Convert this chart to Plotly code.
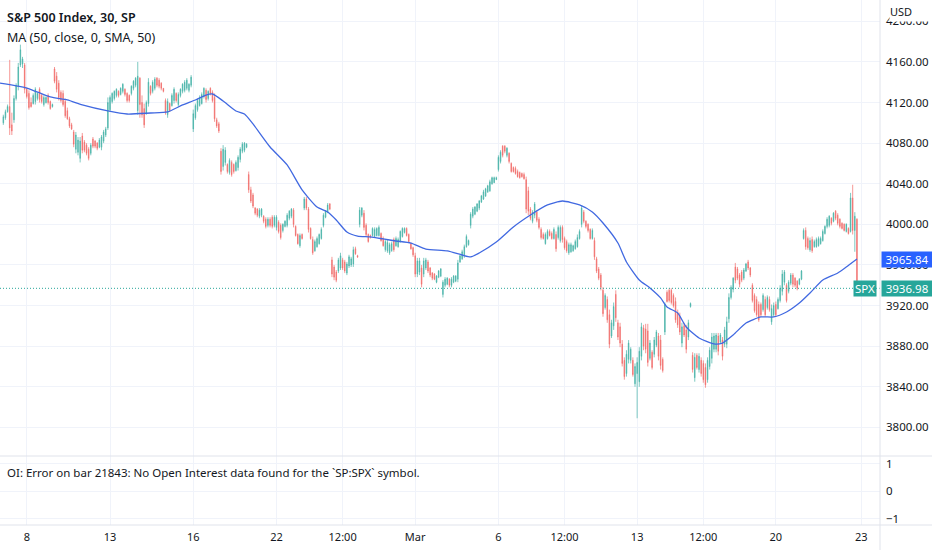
import plotly.graph_objects as go

# S&P 500, 30 min bars, Feb 7 (last 11 bars) .. Mar 22 2023, one line per session
opens = [
    4100, 4105, 4111, 4116, 4098, 4103, 4124, 4136, 4157, 4158, 4157,
    4133, 4129, 4120, 4119, 4121, 4124, 4133, 4127, 4118, 4120, 4127, 4121, 4116,
    4153, 4146, 4139, 4130, 4129, 4121, 4112, 4104, 4098, 4091, 4074, 4071, 4065,
    4087, 4081, 4078, 4074, 4070, 4084, 4082, 4080, 4076, 4076, 4082, 4088, 4095,
    4113, 4121, 4124, 4127, 4131, 4128, 4131, 4133, 4129, 4127, 4129, 4134, 4137,
    4112, 4144, 4120, 4114, 4109, 4119, 4136, 4131, 4134, 4144, 4142, 4139, 4134,
    4122, 4108, 4119, 4117, 4122, 4129, 4118, 4127, 4131, 4132, 4134, 4132, 4137,
    4094, 4105, 4113, 4117, 4119, 4126, 4132, 4124, 4134, 4130, 4125, 4103, 4099,
    4072, 4057, 4061, 4059, 4051, 4061, 4059, 4053, 4056, 4064, 4072, 4073, 4076,
    4049, 4034, 4029, 4016, 4015, 4008, 4009, 4008, 4005, 3999, 4005, 4007, 3999,
    3997, 4002, 3999, 3994, 3998, 3999, 4006, 4008, 4014, 3998, 3990, 3979, 3990,
    4016, 4025, 4015, 3996, 3985, 3974, 3978, 3981, 3986, 3999, 4007, 4012, 4020,
    3965, 3958, 3953, 3954, 3957, 3965, 3963, 3952, 3959, 3960, 3961, 3976, 3969,
    4000, 4009, 4011, 3999, 3990, 3989, 3989, 3988, 3989, 3989, 3991, 3986, 3975,
    3974, 3972, 3974, 3985, 3979, 3978, 3983, 3988, 3992, 3996, 3990, 3981, 3977,
    3969, 3951, 3953, 3957, 3951, 3957, 3963, 3957, 3952, 3951, 3943, 3948, 3949,
    3931, 3940, 3941, 3946, 3940, 3943, 3944, 3946, 3963, 3966, 3969, 3978, 3980,
    3999, 4008, 4010, 4013, 4016, 4022, 4025, 4028, 4032, 4033, 4040, 4041, 4044,
    4054, 4062, 4077, 4077, 4068, 4070, 4060, 4056, 4055, 4052, 4051, 4050, 4049,
    4044, 4033, 4015, 4003, 4009, 4012, 4005, 3995, 3990, 3981, 3986, 3993, 3991,
    3986, 3990, 3987, 3984, 3997, 3986, 3983, 3972, 3973, 3974, 3976, 3978, 3986,
    4000, 4012, 4003, 4000, 3995, 3986, 3984, 3966, 3956, 3950, 3935, 3918, 3926,
    3911, 3890, 3900, 3931, 3903, 3899, 3882, 3866, 3853, 3867, 3866, 3866, 3843,
    3853, 3845, 3870, 3898, 3897, 3895, 3868, 3874, 3872, 3881, 3890, 3886, 3867,
    3894, 3933, 3935, 3935, 3930, 3924, 3913, 3909, 3883, 3900, 3896, 3889, 3919,
    3871, 3849, 3871, 3857, 3866, 3863, 3859, 3847, 3860, 3868, 3877, 3877, 3890,
    3884, 3886, 3882, 3882, 3907, 3928, 3936, 3958, 3956, 3950, 3953, 3947, 3954,
    3963, 3957, 3940, 3930, 3926, 3921, 3921, 3916, 3926, 3918, 3926, 3904, 3911,
    3921, 3917, 3925, 3934, 3943, 3940, 3934, 3942, 3950, 3947, 3944, 3941, 3946,
    3986, 3994, 3986, 3975, 3985, 3978, 3978, 3979, 3981, 3984, 3991, 3998, 3999,
    4006, 4003, 4013, 4009, 4005, 4001, 4000, 3993, 3996, 3993, 4026, 3994, 4005,
]
highs = [
    4108, 4113, 4118, 4162, 4110, 4127, 4139, 4159, 4177, 4165, 4159,
    4135, 4132, 4125, 4129, 4135, 4130, 4135, 4129, 4127, 4126, 4129, 4122, 4119,
    4155, 4150, 4142, 4132, 4132, 4124, 4115, 4106, 4100, 4093, 4091, 4086, 4086,
    4090, 4083, 4080, 4076, 4080, 4086, 4083, 4081, 4085, 4088, 4093, 4096, 4125,
    4127, 4130, 4132, 4134, 4132, 4135, 4139, 4134, 4130, 4128, 4137, 4142, 4145,
    4160, 4145, 4127, 4119, 4122, 4144, 4137, 4142, 4145, 4145, 4144, 4140, 4134,
    4124, 4124, 4120, 4129, 4135, 4130, 4130, 4134, 4139, 4142, 4144, 4139, 4147,
    4113, 4119, 4124, 4127, 4130, 4135, 4134, 4132, 4135, 4132, 4129, 4105, 4101,
    4075, 4078, 4076, 4060, 4065, 4063, 4060, 4063, 4068, 4076, 4081, 4081, 4080,
    4052, 4037, 4031, 4017, 4016, 4016, 4016, 4009, 4007, 4007, 4007, 4009, 4009,
    4009, 4004, 4001, 4001, 4004, 4011, 4014, 4016, 4016, 3999, 3991, 3991, 3991,
    4027, 4027, 4017, 3997, 3988, 3985, 3988, 3991, 3997, 4011, 4014, 4021, 4021,
    3968, 3960, 3955, 3967, 3972, 3967, 3965, 3963, 3970, 3968, 3978, 3978, 3970,
    4017, 4017, 4014, 4001, 3991, 3990, 3997, 3997, 3997, 3999, 3992, 3988, 3985,
    3985, 3982, 3983, 3987, 3988, 3987, 3994, 3997, 3997, 3997, 3991, 3982, 3978,
    3972, 3967, 3967, 3960, 3967, 3967, 3965, 3958, 3953, 3952, 3950, 3955, 3957,
    3945, 3948, 3948, 3947, 3948, 3950, 3950, 3965, 3970, 3975, 3980, 3990, 3985,
    4012, 4017, 4018, 4021, 4024, 4029, 4034, 4036, 4039, 4044, 4047, 4047, 4047,
    4068, 4073, 4078, 4078, 4076, 4071, 4061, 4057, 4057, 4054, 4052, 4051, 4051,
    4047, 4037, 4017, 4014, 4022, 4014, 4007, 3997, 3992, 3992, 3995, 3995, 3993,
    3997, 3993, 3999, 3999, 3999, 3988, 3985, 3982, 3982, 3980, 3985, 3990, 3995,
    4019, 4014, 4004, 4001, 3996, 3996, 3987, 3968, 3958, 3952, 3938, 3932, 3929,
    3916, 3906, 3923, 3935, 3906, 3903, 3886, 3869, 3876, 3886, 3879, 3869, 3863,
    3869, 3879, 3903, 3901, 3902, 3902, 3886, 3876, 3889, 3896, 3893, 3891, 3869,
    3923, 3935, 3937, 3937, 3932, 3928, 3916, 3913, 3903, 3903, 3901, 3906, 3923,
    3874, 3873, 3873, 3873, 3869, 3866, 3863, 3869, 3879, 3893, 3893, 3893, 3893,
    3893, 3889, 3899, 3909, 3932, 3940, 3948, 3962, 3958, 3952, 3955, 3957, 3962,
    3965, 3958, 3942, 3932, 3929, 3924, 3923, 3932, 3929, 3930, 3929, 3921, 3923,
    3924, 3928, 3940, 3955, 3955, 3942, 3945, 3952, 3952, 3948, 3945, 3947, 3955,
    3996, 3997, 3988, 3987, 3988, 3985, 3987, 3988, 3988, 3995, 3999, 4007, 4009,
    4007, 4012, 4014, 4011, 4006, 4002, 4001, 4001, 3997, 4031, 4039, 4012, 4006,
]
lows = [
    4098, 4103, 4110, 4088, 4088, 4100, 4122, 4132, 4155, 4154, 4129,
    4124, 4113, 4115, 4118, 4118, 4122, 4120, 4119, 4116, 4119, 4118, 4113, 4115,
    4139, 4130, 4122, 4120, 4116, 4105, 4103, 4095, 4093, 4076, 4070, 4068, 4061,
    4070, 4071, 4068, 4063, 4068, 4075, 4075, 4073, 4075, 4073, 4080, 4086, 4093,
    4111, 4119, 4122, 4125, 4125, 4127, 4129, 4126, 4120, 4120, 4127, 4132, 4135,
    4108, 4105, 4105, 4095, 4108, 4116, 4127, 4129, 4132, 4135, 4134, 4132, 4130,
    4108, 4105, 4111, 4116, 4119, 4120, 4116, 4125, 4129, 4130, 4132, 4130, 4135,
    4091, 4103, 4111, 4116, 4118, 4124, 4120, 4122, 4127, 4120, 4101, 4095, 4090,
    4049, 4053, 4058, 4050, 4049, 4047, 4050, 4052, 4053, 4061, 4070, 4071, 4075,
    4031, 4021, 4016, 4009, 4007, 4006, 4007, 4001, 3996, 3997, 3997, 3996, 3997,
    3994, 3991, 3985, 3992, 3997, 3997, 4004, 4006, 3997, 3988, 3980, 3977, 3985,
    4014, 4014, 3992, 3985, 3970, 3973, 3977, 3980, 3985, 3997, 4006, 4011, 4014,
    3948, 3945, 3943, 3952, 3955, 3955, 3952, 3950, 3957, 3958, 3958, 3970, 3967,
    3997, 4007, 3994, 3988, 3982, 3986, 3988, 3987, 3988, 3988, 3983, 3978, 3973,
    3972, 3970, 3973, 3973, 3978, 3977, 3982, 3987, 3991, 3988, 3982, 3975, 3968,
    3948, 3948, 3950, 3938, 3948, 3955, 3952, 3948, 3945, 3945, 3942, 3947, 3948,
    3928, 3938, 3940, 3938, 3938, 3942, 3943, 3943, 3962, 3965, 3967, 3977, 3979,
    3996, 4006, 4009, 4012, 4014, 4021, 4024, 4027, 4031, 4032, 4039, 4041, 4044,
    4052, 4060, 4066, 4070, 4066, 4060, 4051, 4051, 4049, 4046, 4045, 4046, 4044,
    4011, 4009, 4004, 4001, 4006, 4002, 3995, 3985, 3985, 3980, 3985, 3988, 3985,
    3985, 3973, 3985, 3982, 3982, 3975, 3972, 3970, 3972, 3973, 3975, 3977, 3985,
    3997, 4001, 3996, 3992, 3985, 3985, 3965, 3952, 3945, 3935, 3909, 3916, 3903,
    3878, 3888, 3896, 3904, 3886, 3879, 3860, 3847, 3850, 3863, 3863, 3850, 3840,
    3809, 3840, 3866, 3876, 3873, 3860, 3866, 3857, 3869, 3879, 3866, 3857, 3854,
    3891, 3923, 3923, 3921, 3918, 3903, 3898, 3891, 3879, 3889, 3873, 3886, 3918,
    3854, 3845, 3857, 3854, 3850, 3844, 3839, 3844, 3857, 3863, 3874, 3874, 3871,
    3883, 3866, 3879, 3878, 3903, 3926, 3933, 3942, 3945, 3938, 3943, 3945, 3953,
    3955, 3948, 3923, 3913, 3909, 3904, 3909, 3914, 3909, 3916, 3914, 3901, 3909,
    3909, 3916, 3923, 3930, 3940, 3923, 3932, 3940, 3938, 3938, 3935, 3940, 3945,
    3985, 3975, 3975, 3973, 3972, 3977, 3977, 3978, 3980, 3983, 3990, 3996, 3997,
    3999, 4002, 4004, 3999, 3996, 3995, 3993, 3992, 3990, 3992, 3990, 3973, 3936,
]
closes = [
    4106, 4111, 4116, 4095, 4092, 4124, 4137, 4155, 4172, 4163, 4133,
    4126, 4115, 4116, 4127, 4133, 4129, 4123, 4121, 4125, 4125, 4120, 4114, 4118,
    4141, 4133, 4125, 4122, 4118, 4107, 4104, 4097, 4094, 4079, 4088, 4083, 4082,
    4073, 4073, 4070, 4065, 4078, 4077, 4077, 4075, 4083, 4086, 4091, 4094, 4120,
    4125, 4129, 4131, 4133, 4127, 4134, 4138, 4128, 4122, 4122, 4136, 4141, 4144,
    4146, 4118, 4108, 4098, 4120, 4140, 4129, 4140, 4143, 4137, 4136, 4134, 4131,
    4110, 4121, 4112, 4127, 4133, 4122, 4128, 4133, 4138, 4140, 4142, 4138, 4145,
    4109, 4117, 4122, 4125, 4128, 4134, 4123, 4131, 4129, 4122, 4104, 4097, 4092,
    4052, 4074, 4073, 4052, 4063, 4049, 4052, 4061, 4066, 4074, 4079, 4080, 4079,
    4034, 4023, 4018, 4011, 4009, 4014, 4015, 4003, 3998, 4005, 3999, 3998, 4007,
    4007, 3993, 3987, 4000, 4003, 4009, 4013, 4015, 4000, 3989, 3981, 3989, 3986,
    4025, 4016, 3995, 3986, 3972, 3983, 3986, 3990, 3995, 4009, 4013, 4019, 4015,
    3951, 3948, 3945, 3965, 3969, 3957, 3954, 3961, 3968, 3966, 3975, 3971, 3968,
    4014, 4016, 3997, 3990, 3983, 3987, 3996, 3995, 3996, 3997, 3984, 3979, 3983,
    3982, 3980, 3981, 3975, 3986, 3985, 3993, 3996, 3996, 3989, 3983, 3976, 3970,
    3951, 3964, 3964, 3941, 3964, 3965, 3954, 3950, 3947, 3946, 3949, 3954, 3956,
    3943, 3946, 3947, 3940, 3946, 3949, 3949, 3962, 3969, 3973, 3978, 3988, 3984,
    4010, 4015, 4017, 4020, 4023, 4028, 4032, 4035, 4038, 4042, 4046, 4046, 4046,
    4066, 4071, 4068, 4072, 4075, 4062, 4052, 4052, 4050, 4047, 4046, 4047, 4045,
    4015, 4013, 4006, 4012, 4020, 4004, 3997, 3987, 3986, 3990, 3993, 3989, 3986,
    3995, 3976, 3997, 3997, 3985, 3977, 3974, 3980, 3980, 3979, 3983, 3987, 3993,
    4016, 4003, 3998, 3994, 3986, 3994, 3968, 3954, 3947, 3938, 3912, 3930, 3906,
    3882, 3903, 3919, 3908, 3889, 3883, 3863, 3850, 3872, 3883, 3877, 3852, 3860,
    3864, 3875, 3899, 3880, 3877, 3864, 3883, 3859, 3886, 3894, 3870, 3861, 3856,
    3921, 3924, 3925, 3923, 3920, 3906, 3901, 3894, 3899, 3891, 3877, 3903, 3922,
    3857, 3869, 3859, 3870, 3853, 3847, 3842, 3866, 3876, 3889, 3890, 3891, 3875,
    3891, 3870, 3896, 3904, 3928, 3938, 3947, 3945, 3947, 3941, 3945, 3955, 3961,
    3957, 3950, 3925, 3915, 3911, 3906, 3911, 3930, 3911, 3928, 3916, 3917, 3920,
    3911, 3926, 3937, 3951, 3953, 3925, 3943, 3950, 3941, 3940, 3937, 3946, 3954,
    3994, 3978, 3977, 3984, 3974, 3983, 3985, 3986, 3986, 3993, 3998, 4005, 4008,
    4001, 4011, 4006, 4001, 3998, 3996, 3994, 4000, 3991, 4026, 3994, 4008, 3936.98,
]

# MA(50), at bar numbers
ma_bar = [-2, 11, 22, 30, 37, 49, 58, 69, 77, 84, 90, 95, 98, 103, 109, 113, 117, 125,
          133, 140, 147, 152, 156, 161, 166, 172, 178, 184, 191, 198, 208, 215, 219,
          223, 231, 239, 247, 255, 262, 270, 276, 281, 288, 292, 298, 303, 308, 311,
          316, 320, 326, 333, 337, 342, 348, 355, 361, 367, 373, 378, 384, 391, 395, 400]
ma_vals = [4139.2, 4134.3, 4125.5, 4122.5, 4117.6, 4111.7, 4108.7, 4109.7, 4110.7, 4117.6,
           4122.5, 4127.4, 4128.4, 4121.5, 4111.7, 4108.7, 4098.9, 4076.2, 4058.5, 4033.9,
           4017.1, 4012.2, 4004.3, 3992.5, 3988.5, 3987.6, 3985.6, 3983.6, 3981.6, 3975.7,
           3973.8, 3969.8, 3967.9, 3971.8, 3982.6, 3997.4, 4009.2, 4019.1, 4023.0, 4019.1,
           4012.2, 4001.3, 3981.6, 3962.9, 3945.2, 3937.3, 3927.5, 3918.6, 3912.7, 3898.9,
           3888.0, 3882.2, 3883.1, 3891.0, 3902.8, 3908.8, 3908.8, 3913.7, 3922.5, 3932.4,
           3945.2, 3952.1, 3958.0, 3965.84]

# time axis: bar number of each label
tick_bar = [11, 50, 89, 128, 159, 193, 232, 263, 297, 328, 362, 402]
tick_text = ["8", "13", "16", "22", "12:00", "Mar", "6", "12:00", "13", "12:00", "20", "23"]
price_ticks = [3800, 3840, 3880, 3920, 3960, 4000, 4040, 4080, 4120, 4160, 4200]

last_close = closes[-1]
last_ma = ma_vals[-1]

UP = "#26a69a"
DOWN = "#ef5350"
GRID = "#f0f3fa"
BORDER = "#e0e3eb"
TXT = "#131722"
FONT = "Noto Sans"

W, H = 932, 550
PLOT_W, PLOT_H = 880, 525
SPLIT = 456  # pixel row of the pane separator


def px(x):
    return x / PLOT_W


def py(y):
    return (PLOT_H - y) / PLOT_H


bars = list(range(len(closes)))

fig = go.Figure()
fig.add_trace(go.Candlestick(
    x=bars, open=opens, high=highs, low=lows, close=closes,
    increasing=dict(line=dict(color=UP, width=0.7), fillcolor=UP),
    decreasing=dict(line=dict(color=DOWN, width=0.7), fillcolor=DOWN),
    whiskerwidth=0, opacity=0.85, hoverinfo="skip", xaxis="x", yaxis="y",
))
fig.add_trace(go.Scatter(
    x=ma_bar, y=ma_vals, mode="lines",
    line=dict(color="#4169e1", width=1.3, shape="spline", smoothing=0.6),
    hoverinfo="skip", xaxis="x", yaxis="y",
))
# empty indicator pane
fig.add_trace(go.Scatter(x=[0], y=[0], mode="markers", marker=dict(opacity=0),
                         hoverinfo="skip", xaxis="x", yaxis="y2"))

split_dom = (PLOT_H - SPLIT) / PLOT_H

fig.update_layout(
    width=W, height=H,
    margin=dict(l=0, r=W - PLOT_W, t=0, b=H - PLOT_H),
    paper_bgcolor="white", plot_bgcolor="white",
    showlegend=False, hovermode=False, boxgap=0.6,
    font=dict(family=FONT, color=TXT, size=11),
    xaxis=dict(
        anchor="y2", range=[-1.55, 410.8], tickvals=tick_bar, ticktext=tick_text,
        showgrid=True, gridcolor=GRID, gridwidth=1, zeroline=False, showline=False,
        ticks="", ticklabelstandoff=4, tickfont=dict(size=11, color=TXT),
        rangeslider=dict(visible=False), fixedrange=True,
    ),
    yaxis=dict(
        domain=[split_dom, 1], side="right", range=[3771.8, 4221],
        tickvals=price_ticks, tickformat=".2f", showgrid=True, gridcolor=GRID,
        zeroline=False, showline=False, ticks="", ticklabelstandoff=5,
        tickfont=dict(size=11.5, color=TXT), fixedrange=True,
    ),
    yaxis2=dict(
        domain=[0, split_dom], side="right", range=[-1.22, 1.29],
        tickvals=[-1, 0, 1], showgrid=True, gridcolor=GRID, zeroline=False,
        showline=False, ticks="", ticklabelstandoff=5,
        tickfont=dict(size=11.5, color=TXT), fixedrange=True,
    ),
)

shapes = [
    # last price dotted line
    dict(type="line", xref="paper", yref="y", x0=0, x1=1, y0=last_close, y1=last_close,
         line=dict(color=UP, width=1, dash="1px,2px")),
    # pane separator, time axis border, price axis border
    dict(type="line", xref="paper", yref="paper", x0=0, x1=W / PLOT_W,
         y0=split_dom, y1=split_dom, line=dict(color=BORDER, width=1)),
    dict(type="line", xref="paper", yref="paper", x0=0, x1=W / PLOT_W,
         y0=0, y1=0, line=dict(color=BORDER, width=1)),
    dict(type="line", xref="paper", yref="paper", x0=1, x1=1,
         y0=-(H - PLOT_H) / PLOT_H, y1=1, line=dict(color=BORDER, width=1)),
]
fig.update_layout(shapes=shapes)

ann = [
    dict(text="S&P 500 Index, 30, SP", x=px(5), y=py(18), xanchor="left", yanchor="middle",
         font=dict(size=12.5, color=TXT, weight=600)),
    dict(text="MA (50, close, 0, SMA, 50)", x=px(5), y=py(37), xanchor="left",
         yanchor="middle", font=dict(size=12.5, color=TXT)),
    dict(text="OI: Error on bar 21843: No Open Interest data found for the `SP:SPX` symbol.",
         x=px(5), y=py(472), xanchor="left", yanchor="middle", font=dict(size=11.5, color=TXT)),
    dict(text="USD", x=1, y=py(11), xanchor="left", yanchor="middle", align="left",
         width=40, height=20, bgcolor="white", borderpad=0, xshift=9,
         font=dict(size=11, color=TXT)),
    dict(text="SPX", x=px(877), y=last_close, yref="y", xanchor="right", yanchor="middle",
         bgcolor=UP, width=22, height=15, borderpad=0, font=dict(size=11.5, color="white")),
]
for val, col in [(last_ma, "#2962ff"), (last_close, UP)]:
    ann.append(dict(text=f"{val:.2f}", x=1, y=val, yref="y", xanchor="left",
                    yanchor="middle", bgcolor=col, width=50, height=15, borderpad=0,
                    xshift=1, font=dict(size=11.5, color="white")))
for a in ann:
    a.setdefault("xref", "paper")
    a.setdefault("yref", "paper")
    a["showarrow"] = False
fig.update_layout(annotations=ann)

# drop the default page margin so the chart fills the window exactly
fig.write_html("out.html", config={"displayModeBar": False},
               post_script="document.body.style.margin='0';document.body.style.overflow='hidden';")
